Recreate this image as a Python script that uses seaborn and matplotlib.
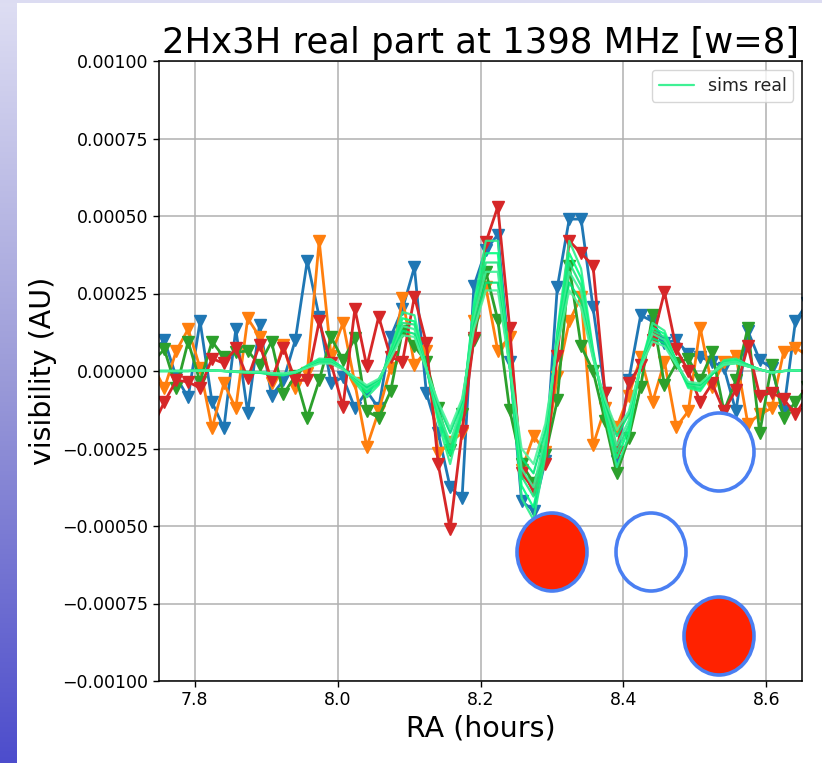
import numpy as np
import matplotlib
matplotlib.use("Agg")
import matplotlib.pyplot as plt
import seaborn as sns
from matplotlib.patches import Ellipse, Rectangle
from matplotlib.colors import LinearSegmentedColormap

# ---------------- data (visibility in units of 1e-4) ----------------
ra_hours = [7.7408, 7.7575, 7.7742, 7.7908, 7.8075, 7.8242, 7.8408, 7.8575, 7.8742, 7.8908,
            7.9075, 7.9242, 7.9408, 7.9575, 7.9742, 7.9908, 8.0075, 8.0242, 8.0408, 8.0575,
            8.0742, 8.0908, 8.1075, 8.1242, 8.1408, 8.1575, 8.1742, 8.1908, 8.2075, 8.2242,
            8.2408, 8.2575, 8.2742, 8.2908, 8.3075, 8.3242, 8.3408, 8.3575, 8.3742, 8.3908,
            8.4075, 8.4242, 8.4408, 8.4575, 8.4742, 8.4908, 8.5075, 8.5242, 8.5408, 8.5575,
            8.5742, 8.5908, 8.6075, 8.6242, 8.6408, 8.6575]

vis_blue = [0.6, 1.0, -0.2, -0.85, 1.6, -1.0, -1.85, 1.35, -1.35, 1.5, -0.8,
            -0.3, 1.0, 3.55, 1.75, -0.4, -0.2, -1.2, -0.65, -1.2, 1.1,
            2.0, 3.35, -0.7, -2.0, -3.75, -4.1, 2.75, 3.9, 4.4, 0.3,
            -4.2, -4.5, -2.9, 2.7, 4.9, 4.9, 2.05, -0.7, -2.9, -0.3,
            1.8, 1.6, 0.9, 1.0, 0.55, 0.45, 0.3, 0.1, -1.3, 1.3,
            0.35, 0.1, -1.3, 1.6, 2.2]
vis_orange = [0.2, -0.56, 0.65, 1.35, 0.1, -1.85, -0.4, -1.2, 1.7, 1.1, -0.4,
              0.85, -0.56, -0.05, 4.2, 0.5, 1.55, -0.4, -2.45, -1.3, 0.1,
              2.35, 0.2, 0.65, -2.65, -2.3, -2.0, 1.6, 2.7, 0.65, 1.1,
              -3.2, -2.1, -2.6, -0.2, 1.6, 2.4, -2.4, -1.2, -1.8, -0.8,
              0.45, -1.0, 0.3, -1.8, -1.3, 1.4, -0.5, 0.3, 0.5, -1.7,
              -1.4, -1.2, 0.6, 0.75, 0.5]
vis_green = [0.3, 0.7, -0.55, 0.95, -0.35, 0.95, 0.45, 0.6, 0.65, 0.2, 0.95,
             -0.75, -0.15, -1.5, -0.3, 1.1, 0.35, 1.05, -1.3, -1.5, -0.65,
             1.3, 0.8, 0.3, -1.2, -2.55, -1.4, 1.0, 3.2, 1.65, -1.25,
             -3.0, -3.6, -2.7, -0.95, 3.4, 0.8, 0.0, -1.6, -3.3, -2.15,
             -0.5, 1.8, -0.45, 0.25, 0.4, -0.3, 0.6, -1.3, -0.3, 1.4,
             -2.0, 0.2, -1.5, -1.0, -0.5]
vis_red = [-1.8, -1.0, -0.3, -0.35, -0.55, 0.4, 0.25, 0.73, -0.24, 0.85, -0.3,
           0.75, -0.3, -0.3, 1.6, 0.25, -1.15, 2.0, 0.15, 1.75, 0.45,
           0.3, 2.4, 0.9, -3.0, -5.1, -1.95, 1.05, 4.15, 5.3, 1.4,
           -3.3, -3.8, -3.0, 0.5, 4.2, 3.8, 3.4, -0.7, -2.6, -0.4,
           0.2, 1.0, 2.55, 0.7, 0.0, -1.0, -0.4, -1.3, -0.6, 0.8,
           -0.8, -0.7, -0.9, -1.4, -0.8]

sim_a = [0, 0, 0, 0, 0.02, 0.02, 0, -0.03, -0.05, -0.06, -0.12, -0.14, -0.05, 0.18, 0.4, 0.38, 0.1, -0.35, -0.85, -0.45,
         0.7, 1.9, 1.8, 0.1, -1.65, -3.0, -1.4, 2.2, 4.2, 4.2, 0.2, -4.1, -4.8, -2.75, 1.3, 4.2, 3.3, 0.7, -1.4, -3.1,
         -2.1, 0.2, 1.55, 1.3, 0.3, -0.55, -0.65, -0.1, 0.35, 0.4, 0.2, 0.05, -0.05, 0.0, 0.02, 0]
sim_b = [0, 0, 0, 0, 0.02, 0.02, 0, -0.03, -0.05, -0.05, -0.1, -0.12, -0.05, 0.15, 0.35, 0.35, 0.1, -0.3, -0.7, -0.4,
         0.6, 1.7, 1.6, 0.1, -1.5, -2.7, -1.3, 2.0, 3.8, 3.8, 0.2, -3.7, -4.4, -2.5, 1.2, 3.8, 3.0, 0.6, -1.3, -2.8,
         -1.9, 0.2, 1.4, 1.2, 0.3, -0.5, -0.6, -0.1, 0.3, 0.35, 0.2, 0.05, -0.05, 0.0, 0.02, 0]
sim_c = [0, 0, 0, 0, 0.02, 0.02, 0, -0.02, -0.04, -0.05, -0.1, -0.1, -0.04, 0.14, 0.32, 0.32, 0.08, -0.28, -0.62, -0.35,
         0.55, 1.55, 1.5, 0.1, -1.4, -2.5, -1.2, 1.85, 3.5, 3.5, 0.2, -3.4, -4.05, -2.3, 1.1, 3.5, 2.75, 0.55, -1.2, -2.6,
         -1.75, 0.2, 1.3, 1.1, 0.3, -0.45, -0.55, -0.1, 0.3, 0.3, 0.2, 0.05, -0.05, 0.0, 0.02, 0]
sim_d = [0, 0, 0, 0, 0.01, 0.02, 0, -0.02, -0.04, -0.04, -0.09, -0.1, -0.04, 0.13, 0.3, 0.3, 0.08, -0.25, -0.58, -0.3,
         0.5, 1.45, 1.35, 0.1, -1.3, -2.3, -1.1, 1.7, 3.2, 3.2, 0.15, -3.15, -3.75, -2.1, 1.0, 3.2, 2.55, 0.5, -1.1, -2.4,
         -1.6, 0.15, 1.2, 1.0, 0.25, -0.4, -0.5, -0.1, 0.25, 0.3, 0.15, 0.05, -0.05, 0.0, 0.02, 0]
sim_e = [0, 0, 0, 0, 0.01, 0.01, 0, -0.02, -0.03, -0.04, -0.08, -0.09, -0.03, 0.12, 0.27, 0.27, 0.06, -0.22, -0.52, -0.28,
         0.45, 1.3, 1.2, 0.05, -1.1, -2.0, -1.0, 1.5, 2.85, 2.85, 0.15, -2.8, -3.3, -1.9, 0.9, 2.85, 2.25, 0.45, -1.0, -2.1,
         -1.4, 0.15, 1.05, 0.9, 0.2, -0.4, -0.45, -0.1, 0.2, 0.25, 0.15, 0.05, -0.05, 0.0, 0.02, 0]
sim_f = [0, 0, 0, 0, 0.01, 0.01, 0, -0.02, -0.03, -0.03, -0.07, -0.08, -0.03, 0.1, 0.24, 0.24, 0.05, -0.2, -0.46, -0.25,
         0.4, 1.15, 1.1, 0.05, -1.0, -1.85, -0.9, 1.35, 2.6, 2.6, 0.15, -2.5, -3.0, -1.7, 0.8, 2.6, 2.05, 0.4, -0.9, -1.9,
         -1.3, 0.15, 0.95, 0.8, 0.2, -0.35, -0.4, -0.05, 0.2, 0.25, 0.15, 0.05, -0.05, 0.0, 0.02, 0]

unit = 1e-4
x_ticks = [7.8, 8.0, 8.2, 8.4, 8.6]
y_ticks = [-0.001, -0.00075, -0.0005, -0.00025, 0.0, 0.00025, 0.0005, 0.00075, 0.001]
title = "2Hx3H real part at 1398 MHz [w=8]"

# ---------------- style ----------------
sns.set_style("ticks")
plt.rcParams['font.family'] = ['DejaVu Sans']
plt.rcParams['axes.unicode_minus'] = True
for key in ['text.color', 'axes.labelcolor', 'xtick.color', 'ytick.color', 'axes.edgecolor']:
    plt.rcParams[key] = 'black'

W, H = 822, 763
fig = plt.figure(figsize=(W / 100, H / 100), dpi=100)
fig.patch.set_facecolor('white')

# slide decoration: left gradient strip and thin top band
strip = fig.add_axes([0, 0, 16 / W, 1])
cmap = LinearSegmentedColormap.from_list('slide', ['#dedef3', '#9a9ad8', '#4d4dcc'])
strip.imshow(np.linspace(0, 1, 256).reshape(-1, 1), aspect='auto', cmap=cmap, extent=[0, 1, 0, 1], origin='upper')
strip.set_axis_off()
fig.add_artist(Rectangle((0, 1 - 3 / H), 1, 3 / H, transform=fig.transFigure, color='#dcdcf2', lw=0))

ax = fig.add_axes([159 / W, 1 - 681 / H, (802 - 159) / W, (681 - 61) / H])

colors = ['#1f77b4', '#ff7f0e', '#2ca02c', '#d62728']
for vals, col in zip([vis_blue, vis_orange, vis_green, vis_red], colors):
    sns.lineplot(x=ra_hours, y=np.array(vals) * unit, color=col, marker='v', markersize=8.5,
                 markeredgecolor=col, markeredgewidth=1.0, linewidth=2.0, sort=False, ax=ax)

sim_colors = ['#2af08a', '#00ff7f', '#1ee680', '#3cf096', '#00e676', '#4cf29a']
for i, (vals, col) in enumerate(zip([sim_a, sim_b, sim_c, sim_d, sim_e, sim_f], sim_colors)):
    sns.lineplot(x=ra_hours, y=np.array(vals) * unit, color=col, linewidth=1.6, alpha=0.9,
                 sort=False, ax=ax, label='sims real' if i == 0 else None)

ax.set_xlim(7.75, 8.65)
ax.set_ylim(-0.001, 0.001)
ax.set_xticks(x_ticks)
ax.set_yticks(y_ticks)
ax.grid(True, color='#b0b0b0', linewidth=1.1)
ax.tick_params(labelsize=12.5, length=4, width=1, color='black', labelcolor='black')
for s in ax.spines.values():
    s.set_color('black')
    s.set_linewidth(1.1)
ax.set_xlabel("RA (hours)", fontsize=20.5, color='black')
ax.set_ylabel("visibility (AU)", fontsize=20.5, color='black')
ax.set_title(title, fontsize=25.5, pad=6, color='black')
leg = ax.legend(loc='upper right', fontsize=12.5, frameon=True)
leg.get_frame().set_edgecolor('#cccccc')
for t in leg.get_texts():
    t.set_color('#222222')

# slide shapes overlaid on the plot (pixel positions on the slide)
def slide_ellipse(cx, cy, w, h, face):
    fig.add_artist(Ellipse((cx / W, 1 - cy / H), w / W, h / H, transform=fig.transFigure,
                           facecolor=face, edgecolor='#4a7ff2', linewidth=2.6, zorder=5))

slide_ellipse(552, 552, 70, 78, '#ff2200')
slide_ellipse(651, 552, 70, 78, 'white')
slide_ellipse(719, 452, 70, 78, 'white')
slide_ellipse(719, 636, 70, 78, '#ff2200')

fig.savefig("out.png", dpi=100)
